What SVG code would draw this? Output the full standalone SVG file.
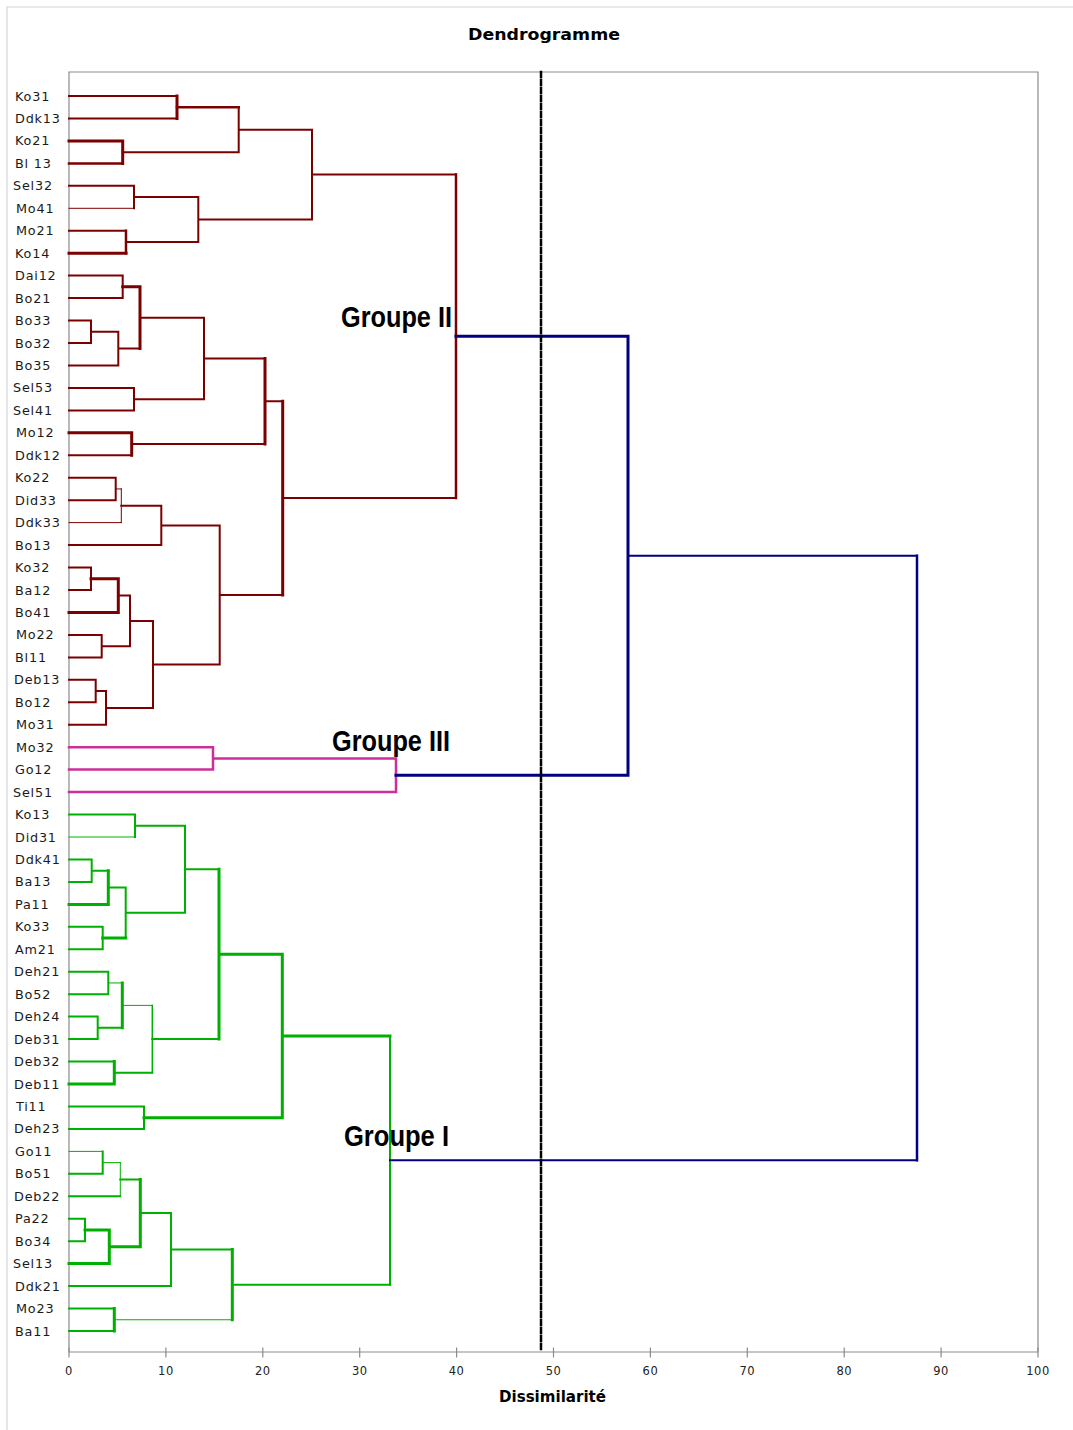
<svg xmlns="http://www.w3.org/2000/svg" width="1073" height="1430" viewBox="0 0 1073 1430">
<style>
.lab{font-family:"DejaVu Sans",Verdana,sans-serif;font-size:12.8px;letter-spacing:0.8px;fill:#1a1a1a}
.tick{font-family:"DejaVu Sans",Verdana,sans-serif;font-size:11.5px;letter-spacing:0.5px;fill:#222;text-anchor:middle}
.grp{font-family:"Liberation Sans",Arial,sans-serif;font-weight:bold;font-size:30px;fill:#000}
.ttl{font-family:"DejaVu Sans",Verdana,sans-serif;font-weight:bold;font-size:15px;fill:#000}
path{fill:none;stroke-linecap:square}
.r{stroke:#7b0000}.g{stroke:#00b000}.m{stroke:#cc2f99}.n{stroke:#000080}
.w1{stroke-width:1}.w2{stroke-width:2}.w25{stroke-width:2.5}.w3{stroke-width:3}
.frame{stroke:#8c8c8c;stroke-width:1.2;fill:none}
</style>
<rect width="1073" height="1430" fill="#fff"/>
<path d="M7 7H1073M7 7V1430" stroke="#d4d4d4" stroke-width="1.2" fill="none"/>
<g id="plot-frame">
<path class="frame" d="M69 72H1038V1352M69 72V1352H1038"/>
<path class="frame" d="M69 1348V1357M165.9 1348V1357M262.8 1348V1357M359.7 1348V1357M456.6 1348V1357M553.5 1348V1357M650.4 1348V1357M747.3 1348V1357M844.2 1348V1357M941.1 1348V1357M1038 1348V1357"/>
</g>
<g id="axis-labels">
<text class="tick" x="69" y="1375">0</text>
<text class="tick" x="165.9" y="1375">10</text>
<text class="tick" x="262.8" y="1375">20</text>
<text class="tick" x="359.7" y="1375">30</text>
<text class="tick" x="456.6" y="1375">40</text>
<text class="tick" x="553.5" y="1375">50</text>
<text class="tick" x="650.4" y="1375">60</text>
<text class="tick" x="747.3" y="1375">70</text>
<text class="tick" x="844.2" y="1375">80</text>
<text class="tick" x="941.1" y="1375">90</text>
<text class="tick" x="1038" y="1375">100</text>
<text class="ttl" x="499" y="1402" textLength="107" lengthAdjust="spacingAndGlyphs">Dissimilarité</text>
<text class="ttl" x="468" y="40" textLength="152" lengthAdjust="spacingAndGlyphs">Dendrogramme</text>
</g>
<g id="connectors">
<g class="r w2">
<path d="M69 96H177M69 118.5H177M238.7 107.25V152.15M122.7 152.15H238.7M69 185.8H134M134 185.8V208.3M69 230.7H126M134 197.05H198.3M126 241.95H198.3M198.3 197.05V241.95M238.7 129.7H312M198.3 219.5H312M312 129.7V219.5M312 174.6H456"/>
<path d="M69 275.6H122.7M69 298.1H122.7M122.7 275.6V298.1M69 320.5H91M69 343H91M91 320.5V343M91 331.75H118.3M69 365.5H118.3M118.3 331.75V365.5M118.3 348.6H140M140 317.7H204M69 387.9H134M69 410.4H134M134 387.9V410.4M134 399.15H204M204 317.7V399.15M204 358.4H265M69 455.3H131.7M131.7 444.05H265M265 401.2H282.7"/>
<path d="M69 477.7H115.7M69 500.2H115.7M115.7 477.7V500.2M121.3 505.8H161.3M69 545.1H161.3M161.3 505.8V545.1M161.3 525.45H219.7M219.7 525.45V664.4M69 567.5H91M69 590H91M91 567.5V590M118.3 595.6H130M69 634.9H101.7M69 657.4H101.7M101.7 634.9V657.4M101.7 646.15H130M130 595.6V646.15M130 620.9H153M69 679.8H95.7M69 702.3H95.7M95.7 679.8V702.3M95.7 691.05H106M69 724.7H106M106 691.05V724.7M106 707.9H153M153 620.9V707.9M153 664.4H219.7M219.7 594.9H282.7M282.7 498.05H456"/>
</g>
<g class="r w3">
<path d="M177 96V118.5M69 140.9H122.7M122.7 140.9V163.4M69 253.2H126M122.7 286.85H140M140 286.85V348.6M69 432.8H131.7M131.7 432.8V455.3M265 358.4V444.05M282.7 401.2V594.9M91 578.75H118.3M69 612.5H118.3M118.3 578.75V612.5"/>
</g>
<g class="r w25">
<path d="M177 107.25H238.7M69 163.4H122.7M126 230.7V253.2M456 174.6V498.05"/>
</g>
<g class="r w1">
<path d="M69 208.3H134M115.7 488.95H121.3M69 522.6H121.3M121.3 488.95V522.6"/>
</g>
<g class="m w25">
<path d="M69 747.2H213M69 769.6H213M213 747.2V769.6M213 758.4H396M69 792.1H396M396 758.4V792.1"/>
</g>
<g class="g w2">
<path d="M69 814.5H135M135 814.5V837M135 825.75H185M69 859.5H91.7M69 881.9H91.7M91.7 859.5V881.9M91.7 870.7H108.3M108.3 887.55H125.7M69 926.8H102.7M69 949.3H102.7M102.7 926.8V949.3M125.7 887.55V938.05M125.7 912.8H185M185 825.75V912.8M185 869.3H219"/>
<path d="M69 971.7H108.3M69 994.2H108.3M108.3 971.7V994.2M69 1016.6H97.7M69 1039.1H97.7M97.7 1016.6V1039.1M97.7 1027.85H122.3M152.3 1039.1H219M69 1061.5H114.3M114.3 1072.75H152.3M69 1106.5H144M69 1128.9H144M144 1106.5V1128.9M390 1035.95V1284.7"/>
<path d="M69 1173.8H102.7M102.7 1151.4V1173.8M69 1196.3H120.3M120.3 1179.45H140.3M69 1218.7H85M69 1241.2H85M85 1218.7V1241.2M140.3 1213.1H171M69 1286.1H171M171 1213.1V1286.1M171 1249.6H232.3M69 1308.5H114.3M69 1331H114.3M232.3 1284.7H390"/>
</g>
<g class="g w3">
<path d="M69 904.4H108.3M108.3 870.7V904.4M102.7 938.05H125.7M122.3 982.95V1027.85M219 869.3V1039.1M219 954.2H282.3M282.3 954.2V1117.7M69 1084H114.3M114.3 1061.5V1084M144 1117.7H282.3M282.3 1035.95H390M85 1229.95H109.3M69 1263.6H109.3M109.3 1229.95V1263.6M109.3 1246.8H140.3M140.3 1179.45V1246.8M114.3 1308.5V1331M232.3 1249.6V1319.75"/>
</g>
<g class="g w1">
<path d="M69 837H135M108.3 982.95H122.3M122.3 1005.4H152.3M69 1151.4H102.7M102.7 1162.6H120.3M120.3 1162.6V1196.3M114.3 1319.75H232.3"/>
<path stroke-width="1.5" d="M152.3 1005.4V1072.75"/>
</g>
<g class="n">
<path class="w3" d="M456 336.3H628M628 336.3V775.25M396 775.25H628"/>
<path class="w2" d="M628 555.8H917M390 1160.3H917"/>
<path class="w25" d="M917 555.8V1160.3"/>
</g>
<path d="M541 72V1352" stroke="#000" stroke-width="2.5" stroke-dasharray="5 3" fill="none"/>
</g>
<g id="group-labels">
<text class="grp" x="341" y="327" textLength="111" lengthAdjust="spacingAndGlyphs">Groupe II</text>
<text class="grp" x="332" y="751" textLength="118" lengthAdjust="spacingAndGlyphs">Groupe III</text>
<text class="grp" x="344" y="1146" textLength="105" lengthAdjust="spacingAndGlyphs">Groupe I</text>
</g>
<g id="leaves">
<g id="n01"><text class="lab" x="15" y="100.5">Ko31</text></g>
<g id="n02"><text class="lab" x="15" y="123">Ddk13</text></g>
<g id="n03"><text class="lab" x="15" y="145.4">Ko21</text></g>
<g id="n04"><text class="lab" x="15" y="167.9">Bl 13</text></g>
<g id="n05"><text class="lab" x="13" y="190.3">Sel32</text></g>
<g id="n06"><text class="lab" x="16" y="212.8">Mo41</text></g>
<g id="n07"><text class="lab" x="16" y="235.2">Mo21</text></g>
<g id="n08"><text class="lab" x="15" y="257.7">Ko14</text></g>
<g id="n09"><text class="lab" x="15" y="280.1">Dai12</text></g>
<g id="n10"><text class="lab" x="15" y="302.6">Bo21</text></g>
<g id="n11"><text class="lab" x="15" y="325">Bo33</text></g>
<g id="n12"><text class="lab" x="15" y="347.5">Bo32</text></g>
<g id="n13"><text class="lab" x="15" y="370">Bo35</text></g>
<g id="n14"><text class="lab" x="13" y="392.4">Sel53</text></g>
<g id="n15"><text class="lab" x="13" y="414.9">Sel41</text></g>
<g id="n16"><text class="lab" x="16" y="437.3">Mo12</text></g>
<g id="n17"><text class="lab" x="15" y="459.8">Ddk12</text></g>
<g id="n18"><text class="lab" x="15" y="482.2">Ko22</text></g>
<g id="n19"><text class="lab" x="15" y="504.7">Did33</text></g>
<g id="n20"><text class="lab" x="15" y="527.1">Ddk33</text></g>
<g id="n21"><text class="lab" x="15" y="549.6">Bo13</text></g>
<g id="n22"><text class="lab" x="15" y="572">Ko32</text></g>
<g id="n23"><text class="lab" x="15" y="594.5">Ba12</text></g>
<g id="n24"><text class="lab" x="15" y="617">Bo41</text></g>
<g id="n25"><text class="lab" x="16" y="639.4">Mo22</text></g>
<g id="n26"><text class="lab" x="15" y="661.9">Bl11</text></g>
<g id="n27"><text class="lab" x="14" y="684.3">Deb13</text></g>
<g id="n28"><text class="lab" x="15" y="706.8">Bo12</text></g>
<g id="n29"><text class="lab" x="16" y="729.2">Mo31</text></g>
<g id="n30"><text class="lab" x="16" y="751.7">Mo32</text></g>
<g id="n31"><text class="lab" x="15" y="774.1">Go12</text></g>
<g id="n32"><text class="lab" x="13" y="796.6">Sel51</text></g>
<g id="n33"><text class="lab" x="15" y="819">Ko13</text></g>
<g id="n34"><text class="lab" x="15" y="841.5">Did31</text></g>
<g id="n35"><text class="lab" x="15" y="864">Ddk41</text></g>
<g id="n36"><text class="lab" x="15" y="886.4">Ba13</text></g>
<g id="n37"><text class="lab" x="15" y="908.9">Pa11</text></g>
<g id="n38"><text class="lab" x="15" y="931.3">Ko33</text></g>
<g id="n39"><text class="lab" x="15" y="953.8">Am21</text></g>
<g id="n40"><text class="lab" x="14" y="976.2">Deh21</text></g>
<g id="n41"><text class="lab" x="15" y="998.7">Bo52</text></g>
<g id="n42"><text class="lab" x="14" y="1021.1">Deh24</text></g>
<g id="n43"><text class="lab" x="14" y="1043.6">Deb31</text></g>
<g id="n44"><text class="lab" x="14" y="1066">Deb32</text></g>
<g id="n45"><text class="lab" x="14" y="1088.5">Deb11</text></g>
<g id="n46"><text class="lab" x="16" y="1111">Ti11</text></g>
<g id="n47"><text class="lab" x="14" y="1133.4">Deh23</text></g>
<g id="n48"><text class="lab" x="15" y="1155.9">Go11</text></g>
<g id="n49"><text class="lab" x="15" y="1178.3">Bo51</text></g>
<g id="n50"><text class="lab" x="14" y="1200.8">Deb22</text></g>
<g id="n51"><text class="lab" x="15" y="1223.2">Pa22</text></g>
<g id="n52"><text class="lab" x="15" y="1245.7">Bo34</text></g>
<g id="n53"><text class="lab" x="13" y="1268.1">Sel13</text></g>
<g id="n54"><text class="lab" x="15" y="1290.6">Ddk21</text></g>
<g id="n55"><text class="lab" x="16" y="1313">Mo23</text></g>
<g id="n56"><text class="lab" x="15" y="1335.5">Ba11</text></g>
</g>
</svg>
